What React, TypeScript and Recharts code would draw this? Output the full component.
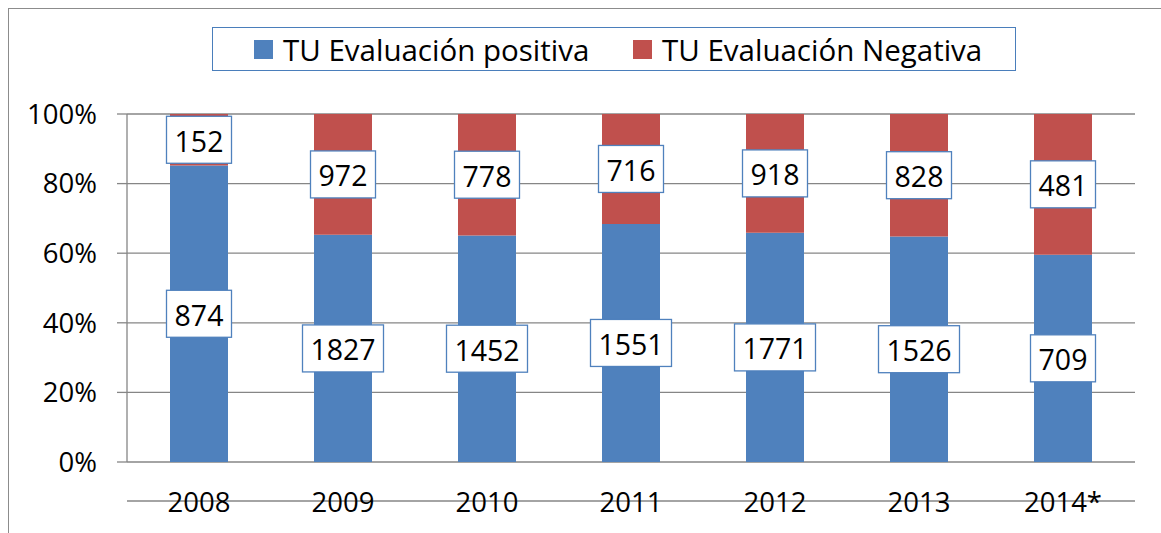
import { BarChart, Bar, XAxis, YAxis, CartesianGrid, LabelList } from 'recharts';

const years = ['2008', '2009', '2010', '2011', '2012', '2013', '2014*'];
const positive = [874, 1827, 1452, 1551, 1771, 1526, 709];
const negative = [152, 972, 778, 716, 918, 828, 481];
const yTicks = [0, 0.2, 0.4, 0.6, 0.8, 1];

const SERIES = [
  { key: 'pos', name: 'TU Evaluación positiva', color: '#4F81BD' },
  { key: 'neg', name: 'TU Evaluación Negativa', color: '#C0504D' },
];

const FONT = '"Open Sans", sans-serif';
const GRID = '#868686';

const chartData = years.map((year, i) => ({
  year,
  pos: positive[i],
  neg: negative[i],
}));

// category boundaries 0..n for the little ticks under the x axis
const edgeTicks = [...years.map((_, i) => i), years.length];

function ValueBox(props: any) {
  const { x, y, width, height, value } = props;
  const cx = Number(x) + Number(width) / 2;
  const cy = Number(y) + Number(height) / 2;
  const w = String(value).length * 16 + 17;
  return (
    <g>
      <rect
        x={cx - w / 2}
        y={cy - 23.5}
        width={w}
        height={47}
        fill="#fff"
        stroke="#4F81BD"
        strokeWidth={1.3}
      />
      <text
        x={cx}
        y={cy + 1}
        textAnchor="middle"
        dominantBaseline="central"
        fontSize={28.5}
        fontFamily={FONT}
        fill="#000"
      >
        {value}
      </text>
    </g>
  );
}

function LegendBox() {
  const lefts = [254, 633];
  return (
    <div
      style={{
        position: 'absolute',
        left: 212,
        top: 27,
        width: 802,
        height: 42,
        border: '1px solid #4A7EBB',
        background: '#fff',
      }}
    >
      {SERIES.map((s, i) => (
        <div
          key={s.key}
          style={{
            position: 'absolute',
            left: lefts[i] - 213,
            top: 0,
            height: 42,
            display: 'flex',
            alignItems: 'center',
            fontFamily: FONT,
            fontSize: 29.5,
            color: '#000',
            whiteSpace: 'nowrap',
          }}
        >
          <span
            style={{ width: 19, height: 19, background: s.color, marginRight: 10, display: 'inline-block' }}
          />
          {s.name}
        </div>
      ))}
    </div>
  );
}

export default function App() {
  return (
    <div style={{ position: 'relative', width: 1161, height: 533, overflow: 'hidden' }}>
      <style>{'body{margin:0;overflow:hidden;}'}</style>
      <div
        style={{
          position: 'absolute',
          left: 8,
          top: 8,
          width: 1153,
          height: 525,
          borderLeft: '1px solid #8c8c8c',
          borderTop: '1px solid #8c8c8c',
          boxSizing: 'border-box',
        }}
      />
      <div style={{ position: 'absolute', left: 0, top: 0 }}>
        <BarChart
          width={1161}
          height={533}
          data={chartData}
          stackOffset="expand"
          margin={{ top: 114, right: 26, bottom: 31, left: 0 }}
        >
          <CartesianGrid vertical={false} stroke={GRID} strokeWidth={1.3} />
          <XAxis
            xAxisId="edges"
            type="number"
            domain={[0, years.length]}
            ticks={edgeTicks}
            allowDataOverflow
            height={1}
            tick={false}
            tickSize={10}
            axisLine={{ stroke: GRID, strokeWidth: 1.3 }}
            tickLine={{ stroke: GRID, strokeWidth: 1.3 }}
          />
          <XAxis
            dataKey="year"
            height={39}
            axisLine={false}
            tickLine={false}
            tickSize={0}
            tickMargin={30}
            tick={{ fill: '#000', fontSize: 27.5, fontFamily: FONT }}
            interval={0}
          />
          <YAxis
            width={127}
            domain={[0, 1]}
            ticks={yTicks}
            tickFormatter={(v: number) => `${Math.round(v * 100)}%`}
            tickSize={10}
            tickMargin={20}
            axisLine={{ stroke: GRID, strokeWidth: 1.3 }}
            tickLine={{ stroke: GRID, strokeWidth: 1.3 }}
            tick={{ fill: '#000', fontSize: 27.5, fontFamily: FONT }}
          />
          {SERIES.map((s) => (
            <Bar
              key={s.key}
              dataKey={s.key}
              name={s.name}
              stackId="a"
              fill={s.color}
              barSize={58}
              isAnimationActive={false}
            >
              <LabelList dataKey={s.key} content={ValueBox} />
            </Bar>
          ))}
        </BarChart>
      </div>
      <LegendBox />
    </div>
  );
}
